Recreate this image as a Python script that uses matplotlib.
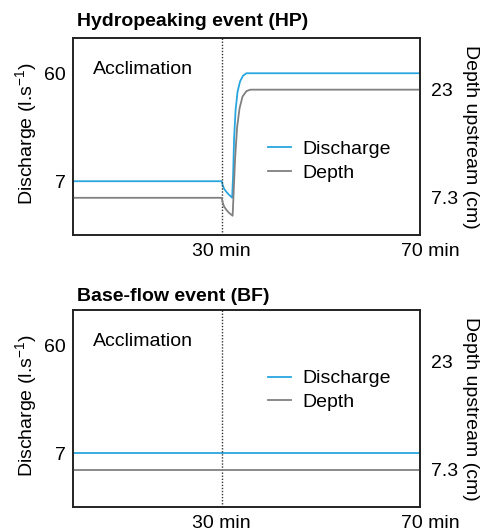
import matplotlib
matplotlib.use("Agg")
import matplotlib.pyplot as plt
import matplotlib.transforms as mtransforms

plt.rcParams['font.family'] = ['Liberation Sans', 'DejaVu Sans']
plt.rcParams['mathtext.fontset'] = 'custom'
plt.rcParams['mathtext.rm'] = 'Liberation Sans'
plt.rcParams['mathtext.it'] = 'Liberation Sans:italic'
plt.rcParams['font.size'] = 14

# hydropeaking event: time (min) and values
hp_time_q = [0, 30, 30.2, 30.5, 31.0, 31.5, 32.1, 32.3, 32.5, 32.8, 33.2, 33.7, 34.3, 35.0, 70]
hp_discharge = [7, 7, 5.0, 3.2, 1.6, 0.3, -1.1, 10, 28, 42, 51, 56, 58.8, 60, 60]
hp_time_d = [0, 30, 30.2, 30.5, 31.0, 31.5, 32.2, 32.4, 32.7, 33.1, 33.6, 34.2, 35.0, 35.8, 70]
hp_depth = [7.3, 7.3, 6.6, 6.0, 5.5, 5.1, 4.7, 8, 13, 17.5, 20.3, 22, 22.8, 23, 23]

# base-flow event
bf_time = [0, 70]
bf_discharge = [7, 7]
bf_depth = [7.3, 7.3]

titles = ["Hydropeaking event (HP)", "Base-flow event (BF)"]
left_ticks = [7, 60]
right_ticks = [7.3, 23]
right_ticklabels = ["7.3", "23"]
x_ticks = [30, 70]
x_ticklabels = ["30 min", "70 min"]

blue = "#2aa6df"
grey = "#808080"

fig = plt.figure(figsize=(4.9, 5.31), dpi=100)
W, H = 490, 531


def make_axes(top_px, bottom_px):
    return fig.add_axes([73 / W, 1 - bottom_px / H, (420 - 73) / W, (bottom_px - top_px) / H])


def style_panel(ax, ax2, title, title_y, legend_y, top_px, bottom_px):
    ax.set_xlim(0, 70)
    ax.set_ylim(-19.4, 77.3)
    ax2.set_ylim(1.9, 30.5)
    ax.set_yticks(left_ticks)
    ax2.set_yticks(right_ticks)
    ax2.set_yticklabels(right_ticklabels)
    ax.set_xticks(x_ticks)
    ax.set_xticklabels(x_ticklabels)
    ax.tick_params(length=0, pad=5)
    ax.tick_params(axis='x', pad=6)
    ax2.tick_params(length=0, pad=8)
    # 70 min label sits slightly right of the frame
    lab = ax.get_xticklabels()[1]
    lab.set_transform(lab.get_transform() + mtransforms.ScaledTranslation(10 / 100, 0, fig.dpi_scale_trans))
    for a in (ax, ax2):
        for s in a.spines.values():
            s.set_linewidth(1.2)
            s.set_color("#222222")
    ax.axvline(30, color="#333333", lw=1.0, ls=(0, (1, 1.2)))
    ax.text(0.058, 0.842, "Acclimation", transform=ax.transAxes, va='center', ha='left')
    ax.text(0.012, title_y, title, transform=ax.transAxes, va='center', ha='left', fontweight='bold')
    h1, = ax.plot([], [], color=blue, lw=1.3, label="Discharge")
    h2, = ax.plot([], [], color=grey, lw=1.3, label="Depth")
    ax.legend(handles=[h1, h2], loc='center left', bbox_to_anchor=(0.561, legend_y),
              frameon=False, borderpad=0, borderaxespad=0, handlelength=1.2,
              handletextpad=0.6, labelspacing=0.32)
    mid = (top_px + bottom_px) / 2
    fig.text(26 / W, 1 - (mid - 3) / H, "Discharge (l.s$^{-1}$)", rotation=90, ha='center', va='center')
    fig.text(470 / W, 1 - mid / H, "Depth upstream (cm)", rotation=270, ha='center', va='center')


ax_top = make_axes(38, 235)
ax_top2 = ax_top.twinx()
ax_top2.plot(hp_time_d, hp_depth, color=grey, lw=1.3)
ax_top.plot(hp_time_q, hp_discharge, color=blue, lw=1.3)
style_panel(ax_top, ax_top2, titles[0], 1.082, 0.375, 38, 235)

ax_bot = make_axes(310, 507)
ax_bot2 = ax_bot.twinx()
ax_bot2.plot(bf_time, bf_depth, color=grey, lw=1.3)
ax_bot.plot(bf_time, bf_discharge, color=blue, lw=1.3)
style_panel(ax_bot, ax_bot2, titles[1], 1.071, 0.591, 310, 507)

fig.savefig("out.png", dpi=100)
